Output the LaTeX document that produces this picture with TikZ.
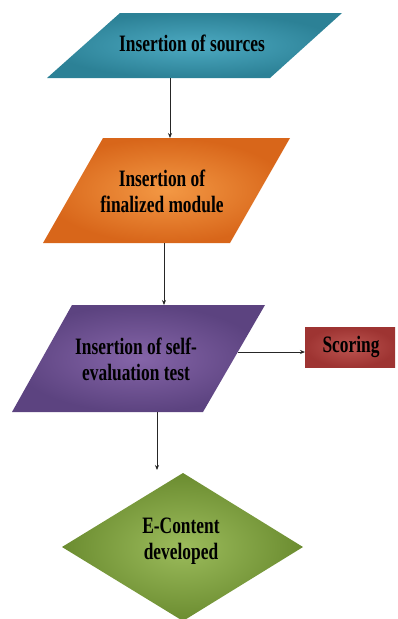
\documentclass[tikz,border=0pt]{standalone}
\usepackage{fontspec}
\newfontfamily\dfont[FakeStretch=0.74]{Liberation Serif}
\usetikzlibrary{arrows.meta}
\definecolor{tealE}{HTML}{2C8196}
\definecolor{tealC}{HTML}{4DAAC2}
\definecolor{orgE}{HTML}{D8661A}
\definecolor{orgC}{HTML}{F39844}
\definecolor{purE}{HTML}{5C4380}
\definecolor{purC}{HTML}{8565A8}
\definecolor{redE}{HTML}{9E3432}
\definecolor{redC}{HTML}{BC5450}
\definecolor{grnE}{HTML}{6B8C30}
\definecolor{grnC}{HTML}{9CBC5C}
\tikzset{
  lbl/.style={font=\dfont\bfseries\fontsize{23.5}{26}\selectfont, align=center, inner sep=0pt, text=black},
  conn/.style={draw=black!85, line width=0.8pt, -{Stealth[length=5pt,width=4pt]}},
}
\begin{document}
\begin{tikzpicture}[x=1pt,y=-1pt]
\useasboundingbox (0,0) rectangle (397,619);
% shapes
\shade[inner color=tealC, outer color=tealE] (120,13) -- (342,13) -- (270,78) -- (47,78) -- cycle;
\shade[inner color=orgC, outer color=orgE] (103,138) -- (290,138) -- (230,243) -- (43,243) -- cycle;
\shade[inner color=purC, outer color=purE] (72,305) -- (265,305) -- (203,412) -- (12,412) -- cycle;
\shade[inner color=redC, outer color=redE] (305,327) rectangle (395,367);
\shade[inner color=grnC, outer color=grnE] (183,473) -- (303,547) -- (183,621) -- (62,547) -- cycle;
% labels
\node[lbl] (src) at (192,43) {Insertion of sources};
\node[lbl] (mod) at (162,191) {Insertion of\\finalized module};
\node[lbl] (self) at (136,359) {Insertion of self-\\evaluation test};
\node[lbl] (sco) at (351,347) {Scoring};
\node[lbl] (ec) at (181,541) {E-Content\\developed};
% connector ends
\coordinate (srcB) at (170,78);
\coordinate (modT) at (170,138);
\coordinate (modB) at (164,243);
\coordinate (selfT) at (164,305);
\coordinate (selfR) at (238,352);
\coordinate (scoL) at (305,352);
\coordinate (selfB) at (157,412);
\coordinate (ecT) at (157,470);
\draw[conn] (srcB) -- (modT);
\draw[conn] (modB) -- (selfT);
\draw[conn] (selfR) -- (scoL);
\draw[conn] (selfB) -- (ecT);
\end{tikzpicture}
\end{document}
